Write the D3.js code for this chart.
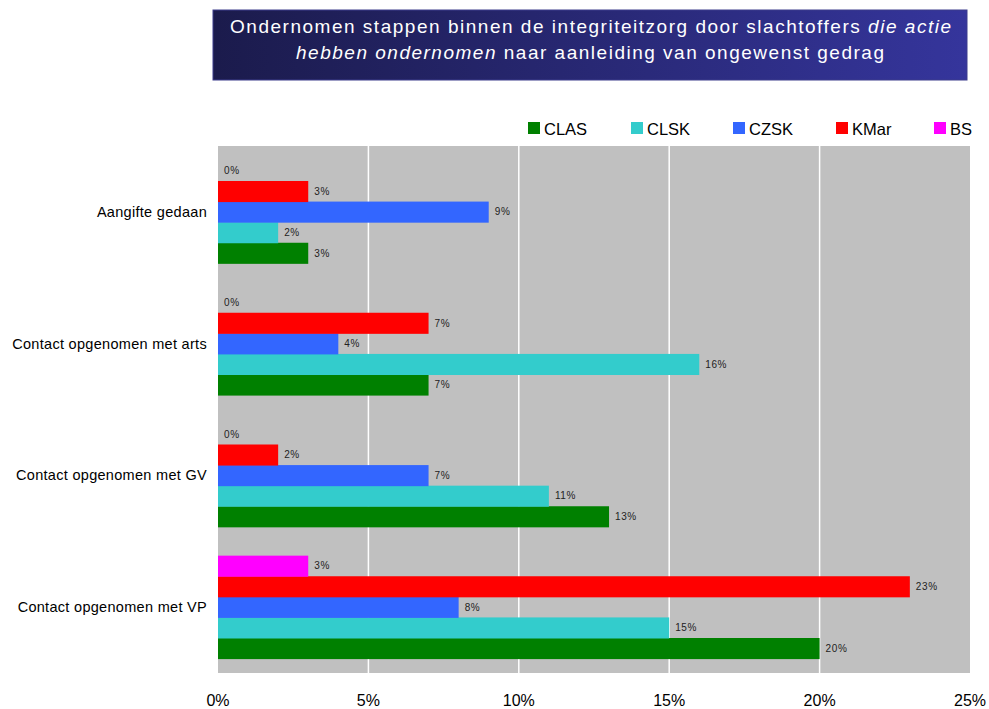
<!DOCTYPE html>
<html><head><meta charset="utf-8">
<script src="https://cdn.jsdelivr.net/npm/d3@7"></script>
<style>body{margin:0;background:#fff;}svg{display:block;font-family:Arial,"Liberation Sans",sans-serif;}</style>
</head><body><svg id="c" width="989" height="709"></svg>
<script>
const categories = ["Aangifte gedaan","Contact opgenomen met arts","Contact opgenomen met GV","Contact opgenomen met VP"];
const seriesNames = ["CLAS","CLSK","CZSK","KMar","BS"];
const seriesColors = ["#008000","#33cccc","#3366ff","#ff0000","#ff00ff"];
const CLAS = [3,7,13,20];
const CLSK = [2,16,11,15];
const CZSK = [9,4,7,8];
const KMar = [3,7,2,23];
const BS = [0,0,0,3];
const xTicks = [0,5,10,15,20,25];
const seriesValues = [CLAS,CLSK,CZSK,KMar,BS];

const svg = d3.select("#c");
// title box
const defs = svg.append("defs");
const grad = defs.append("linearGradient").attr("id","tg").attr("x1","0%").attr("x2","100%");
grad.append("stop").attr("offset","0%").attr("stop-color","#1b1b4c");
grad.append("stop").attr("offset","100%").attr("stop-color","#35359c");
svg.append("rect").attr("x",213).attr("y",10).attr("width",754).attr("height",70).attr("fill","url(#tg)").attr("stroke","#3c3c8c").attr("stroke-width",1);
const t1 = svg.append("text").attr("x",230).attr("y",33).attr("fill","#fff").attr("font-size",19)
  .attr("textLength",721).attr("lengthAdjust","spacing");
t1.append("tspan").text("Ondernomen stappen binnen de integriteitzorg door slachtoffers ");
t1.append("tspan").attr("font-style","italic").text("die actie");
const t2 = svg.append("text").attr("x",296).attr("y",59).attr("fill","#fff").attr("font-size",19)
  .attr("textLength",588).attr("lengthAdjust","spacing");
t2.append("tspan").attr("font-style","italic").text("hebben ondernomen");
t2.append("tspan").text(" naar aanleiding van ongewenst gedrag");

const x = d3.scaleLinear().domain([0,25]).range([218,970]);
const y = d3.scaleBand().domain(categories).range([146,673]);
const order = ["BS","KMar","CZSK","CLSK","CLAS"];
const yi = d3.scaleBand().domain(order).range([0,y.bandwidth()]).paddingOuter(0.7);

svg.append("rect").attr("x",x(0)).attr("y",146).attr("width",x(25)-x(0)).attr("height",673-146).attr("fill","#c0c0c0");
svg.append("g").selectAll("line").data(xTicks.slice(1,-1)).join("line")
  .attr("x1",d=>x(d)).attr("x2",d=>x(d)).attr("y1",146).attr("y2",673).attr("stroke","#fff").attr("stroke-width",1.5);

const rows = [];
categories.forEach((c,i)=>seriesNames.forEach((s,j)=>rows.push({c,s,v:seriesValues[j][i],color:seriesColors[j]})));
const g = svg.append("g");
g.selectAll("rect").data(rows).join("rect")
  .attr("x",x(0)).attr("y",d=>y(d.c)+yi(d.s)).attr("width",d=>x(d.v)-x(0)).attr("height",yi.bandwidth()+0.5).attr("fill",d=>d.color);
g.selectAll("text").data(rows).join("text")
  .attr("x",d=>x(d.v)+6).attr("y",d=>y(d.c)+yi(d.s)+yi.bandwidth()/2+3.5)
  .attr("font-size",10).attr("fill","#222").attr("letter-spacing",0.6).text(d=>d.v+"%");

// category labels
svg.append("g").selectAll("text").data(categories).join("text")
  .attr("x",207).attr("y",d=>y(d)+y.bandwidth()/2+5).attr("text-anchor","end").attr("font-size",14.5).attr("letter-spacing",0.3).attr("fill","#000").text(d=>d);

// x axis labels
svg.append("g").selectAll("text").data(xTicks).join("text")
  .attr("x",d=>x(d)).attr("y",706).attr("text-anchor","middle").attr("font-size",16).attr("fill","#000").text(d=>d+"%");

// legend
const legX = [528,631,733,836,934];
const lg = svg.append("g").selectAll("g").data(seriesNames).join("g").attr("transform",(d,i)=>`translate(${legX[i]},122)`);
lg.append("rect").attr("width",12).attr("height",12).attr("fill",(d,i)=>seriesColors[i]);
lg.append("text").attr("x",16).attr("y",12.5).attr("font-size",16.5).attr("fill","#000").text(d=>d);
</script></body></html>
